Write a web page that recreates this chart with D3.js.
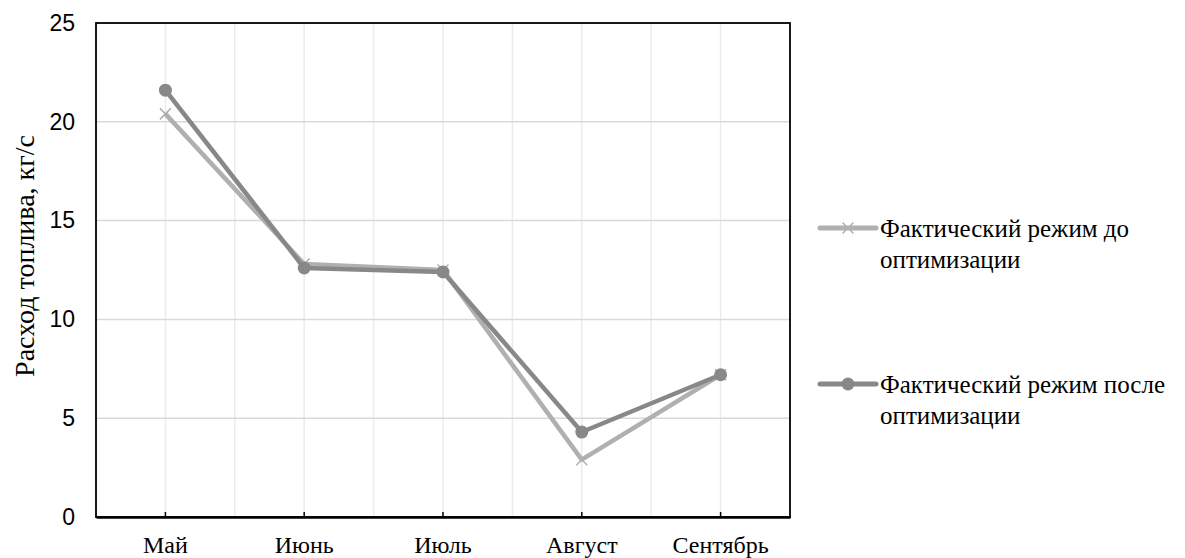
<!DOCTYPE html>
<html>
<head>
<meta charset="utf-8">
<script src="https://cdn.jsdelivr.net/npm/d3@7"></script>
<style>
  html, body { margin: 0; padding: 0; background: #fff; }
  svg { display: block; }
</style>
</head>
<body>
<svg id="chart" width="1185" height="558"></svg>
<script>
// Monthly fuel consumption, kg/s
const months = ["Май", "Июнь", "Июль", "Август", "Сентябрь"];
const beforeOpt = [20.4, 12.8, 12.5, 2.9, 7.2];
const afterOpt = [21.6, 12.6, 12.4, 4.3, 7.2];
const yTicks = [0, 5, 10, 15, 20, 25];
const seriesNames = ["Фактический режим до оптимизации", "Фактический режим после оптимизации"];

const svg = d3.select("#chart");
const plot = { left: 96, right: 790, top: 23, bottom: 517 };
const serif = "'Liberation Serif', 'Times New Roman', serif";
const sans = "'Liberation Sans', Arial, sans-serif";

const x = d3.scaleBand().domain(months).range([plot.left, plot.right]);
const xc = m => x(m) + x.bandwidth() / 2;
const y = d3.scaleLinear().domain([0, 25]).range([plot.bottom, plot.top]);

// vertical gridlines at category centers and boundaries
const vLines = [];
months.forEach((m, i) => {
  vLines.push(xc(m));
  if (i > 0) vLines.push(x(m));
});
svg.append("g").selectAll("line").data(vLines).join("line")
  .attr("x1", d => d).attr("x2", d => d)
  .attr("y1", plot.top).attr("y2", plot.bottom)
  .attr("stroke", "#ececec").attr("stroke-width", 1.5);

// horizontal gridlines
svg.append("g").selectAll("line").data(yTicks.filter(t => t > 0 && t < 25)).join("line")
  .attr("x1", plot.left).attr("x2", plot.right)
  .attr("y1", d => y(d)).attr("y2", d => y(d))
  .attr("stroke", "#d9d9d9").attr("stroke-width", 1.5);

// plot frame
svg.append("rect")
  .attr("x", plot.left).attr("y", plot.top)
  .attr("width", plot.right - plot.left).attr("height", plot.bottom - plot.top)
  .attr("fill", "none").attr("stroke", "#000").attr("stroke-width", 1.8);

// bottom axis with inward ticks at category centers
const xAxis = svg.append("g")
  .attr("transform", `translate(0,${plot.bottom})`)
  .call(d3.axisBottom(x).tickSize(0).tickPadding(0));
xAxis.select(".domain").attr("stroke", "#000").attr("stroke-width", 2.5);
xAxis.selectAll(".tick line").remove();
xAxis.selectAll(".tick").append("line")
  .attr("y1", 0).attr("y2", -5).attr("stroke", "#000").attr("stroke-width", 1.5);
xAxis.selectAll(".tick text")
  .attr("y", 36)
  .attr("dy", 0)
  .attr("fill", "#000")
  .style("font-family", serif)
  .style("font-size", "24px");

// left axis labels
const yAxis = svg.append("g")
  .attr("transform", `translate(${plot.left},0)`)
  .call(d3.axisLeft(y).tickValues(yTicks).tickSize(0).tickPadding(21));
yAxis.select(".domain").remove();
yAxis.selectAll(".tick text")
  .attr("fill", "#000")
  .style("font-family", sans)
  .style("font-size", "23px");

// y axis title
svg.append("text")
  .attr("transform", `translate(34,256) rotate(-90)`)
  .attr("text-anchor", "middle")
  .style("font-family", serif)
  .style("font-size", "28px")
  .attr("fill", "#000")
  .text("Расход топлива, кг/с");

const series = [
  { name: seriesNames[0], values: beforeOpt, color: "#b0b0b0", marker: "x" },
  { name: seriesNames[1], values: afterOpt, color: "#888888", marker: "circle" }
];

const line = d3.line().x(d => xc(d.m)).y(d => y(d.v));

function drawMarker(g, type, color) {
  if (type === "circle") {
    g.append("circle").attr("r", 6.5).attr("fill", color);
  } else {
    const s = 5.5;
    g.append("path")
      .attr("d", `M${-s},${-s}L${s},${s}M${-s},${s}L${s},${-s}`)
      .attr("stroke", color).attr("stroke-width", 1.5).attr("fill", "none");
  }
}

series.forEach(s => {
  const pts = months.map((m, i) => ({ m, v: s.values[i] }));
  svg.append("path")
    .datum(pts)
    .attr("d", line)
    .attr("fill", "none")
    .attr("stroke", s.color)
    .attr("stroke-width", 4.5)
    .attr("stroke-linejoin", "round");
  pts.forEach(p => {
    const g = svg.append("g").attr("transform", `translate(${xc(p.m)},${y(p.v)})`);
    drawMarker(g, s.marker, s.color);
  });
});

// legend
const legendY = [228, 384];
series.forEach((s, i) => {
  const g = svg.append("g").attr("transform", `translate(820,${legendY[i]})`);
  g.append("line").attr("x1", 0).attr("x2", 56).attr("y1", 0).attr("y2", 0)
    .attr("stroke", s.color).attr("stroke-width", 5).attr("stroke-linecap", "round");
  const mg = g.append("g").attr("transform", "translate(28,0)");
  drawMarker(mg, s.marker, s.color);
  const words = s.name.split(" ");
  const first = words.slice(0, -1).join(" ");
  const last = words[words.length - 1];
  const t = g.append("text")
    .style("font-family", serif)
    .style("font-size", "25px")
    .attr("fill", "#000");
  t.append("tspan").attr("x", 60).attr("y", 9).text(first);
  t.append("tspan").attr("x", 60).attr("y", 40).text(last);
});
</script>
</body>
</html>
